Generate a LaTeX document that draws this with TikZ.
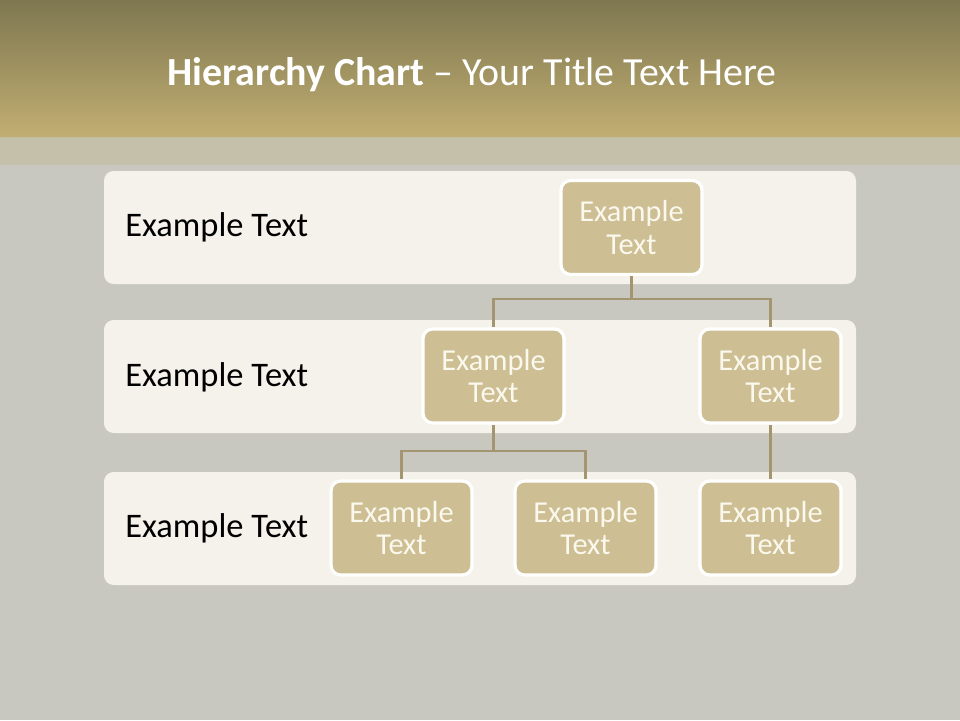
\documentclass[tikz,border=0pt]{standalone}
\usepackage{fontspec}
\setmainfont{Carlito}
\usetikzlibrary{positioning, calc}
\definecolor{hcBack}{HTML}{C9C8C0}
\definecolor{hcTop}{HTML}{7E7750}
\definecolor{hcBottom}{HTML}{C1AE72}
\definecolor{hcStrip}{HTML}{C5BFA6}
\definecolor{hcPanel}{HTML}{F4F2EA}
\definecolor{hcBox}{HTML}{CDBF93}
\definecolor{hcLine}{HTML}{A39570}
\definecolor{hcText}{HTML}{FBF8EE}
\tikzset{
  panel/.style    = {fill=hcPanel, rounded corners=5.5pt},
  orgbox/.style   = {rectangle, rounded corners=5.5pt, fill=hcBox, draw=white,
                     line width=1.8pt, minimum width=2.82cm, minimum height=1.88cm,
                     align=center, text=hcText, font=\fontsize{17.3}{18.7}\selectfont,
                     inner sep=0pt},
  rowlbl/.style   = {anchor=west, inner sep=0pt, font=\fontsize{19.6}{22}\selectfont, text=black},
  link/.style     = {draw=hcLine, line width=1.7pt},
}
\begin{document}
\begin{tikzpicture}[x=0.02cm, y=-0.02cm]
  \useasboundingbox (0,0) rectangle (960,720);
  \fill[hcBack] (0,0) rectangle (960,720);

  % title band
  \shade[top color=hcTop, bottom color=hcBottom] (0,0) rectangle (960,137);
  \fill[hcStrip, opacity=0.85] (0,137) rectangle (960,165);
  \node[font=\fontsize{22.7}{26}\selectfont, text=white] (title) at (472,75)
    {\textbf{Hierarchy Chart} -- Your Title Text Here};

  % level panels
  \fill[panel] (104,171) rectangle (856,284);
  \fill[panel] (104,320) rectangle (856,433);
  \fill[panel] (104,472) rectangle (856,585);

  \node[rowlbl] (lbl1) at (125,227) {Example Text};
  \node[rowlbl] (lbl2) at (125,377) {Example Text};
  \node[rowlbl] (lbl3) at (125,528) {Example Text};

  % boxes
  \node[orgbox] (root) at (631.5,227.5) {Example\\Text};
  \node[orgbox] (midA) at (493.5,376)   {Example\\Text};
  \node[orgbox] (midB) at (770.5,376)   {Example\\Text};
  \node[orgbox] (lowA) at (401.5,528)   {Example\\Text};
  \node[orgbox] (lowB) at (585.5,528)   {Example\\Text};
  \node[orgbox] (lowC) at (770.5,528)   {Example\\Text};

  % connectors
  \coordinate (j1) at (631.5,299);
  \coordinate (j2) at (493.5,451);
  \draw[link] (root.south) -- (j1);
  \draw[link] (j1) -| (midA.north);
  \draw[link] (j1) -| (midB.north);
  \draw[link] (midA.south) -- (j2);
  \draw[link] (j2) -| (lowA.north);
  \draw[link] (j2) -| (lowB.north);
  \draw[link] (midB.south) -- (lowC.north);
\end{tikzpicture}
\end{document}
